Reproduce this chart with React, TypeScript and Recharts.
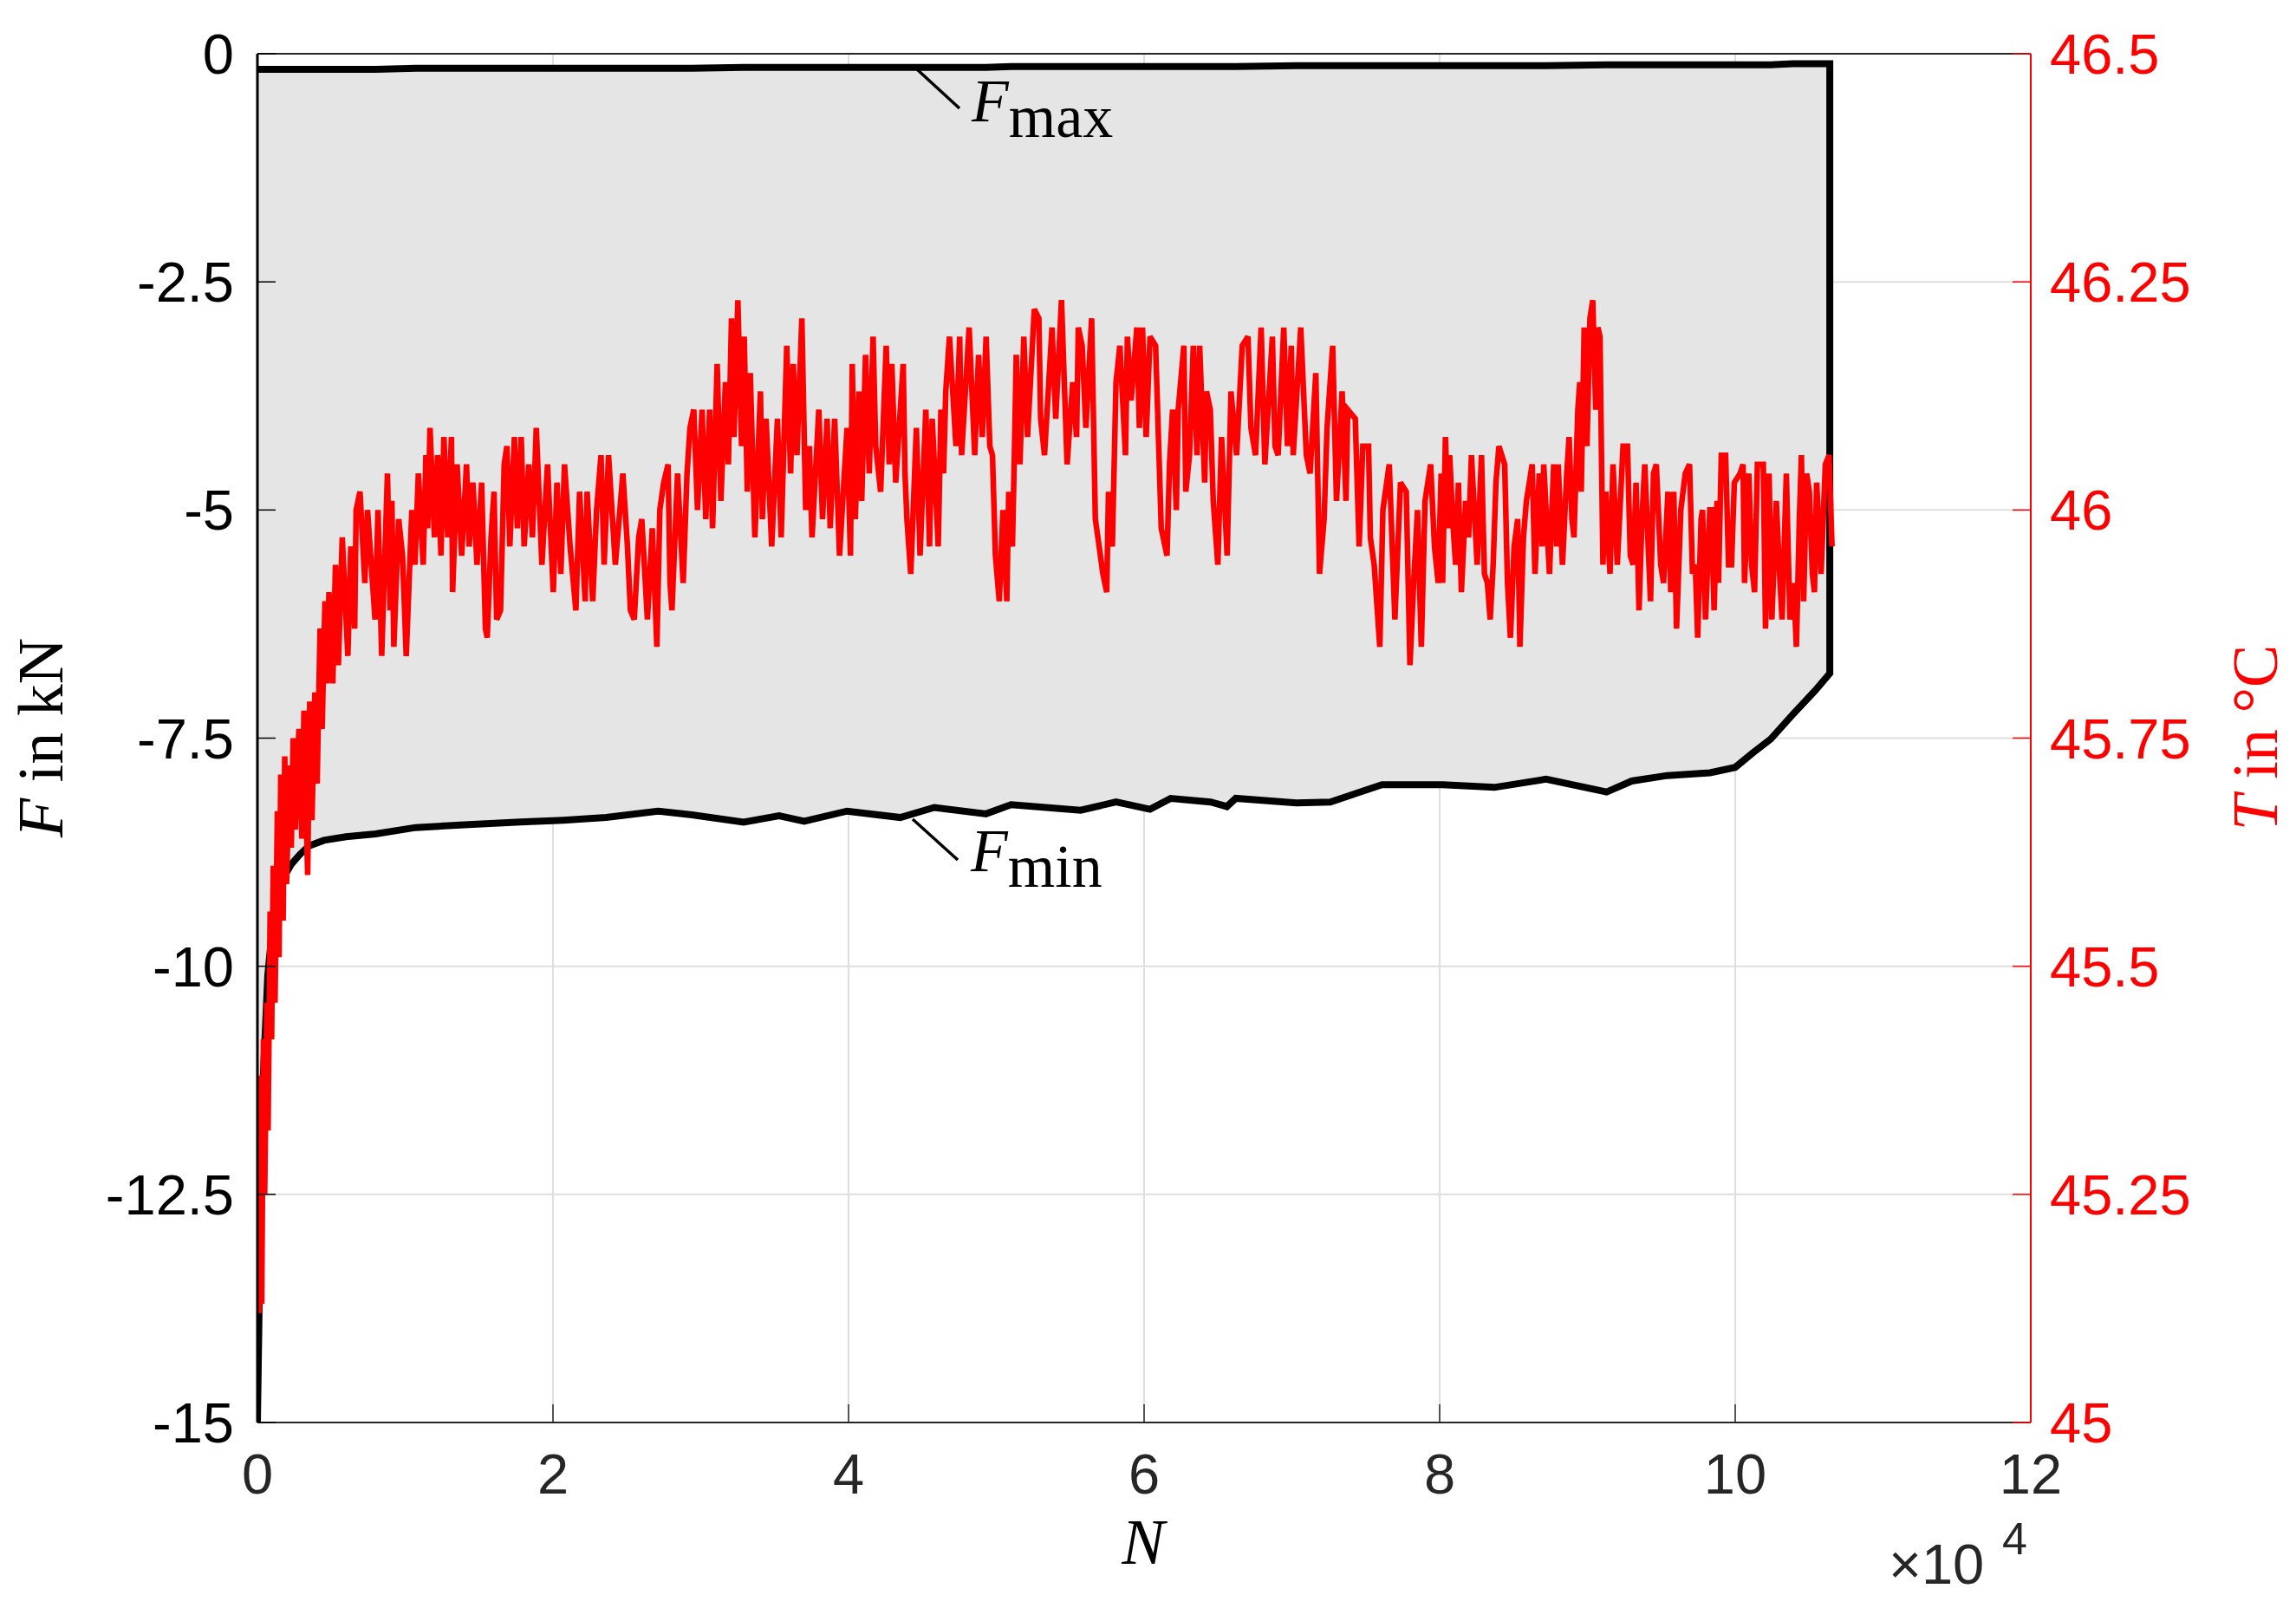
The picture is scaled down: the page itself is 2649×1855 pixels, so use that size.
import React from 'react';
import { ComposedChart, Area, Line, XAxis, YAxis, CartesianGrid } from 'recharts';

// Cycle number N (x 10^4) at which the force envelope was read
const forceN = [0, 0.02, 0.04, 0.07, 0.1, 0.14, 0.18, 0.23, 0.29, 0.35, 0.45, 0.6, 0.8, 1.07, 1.4, 1.78, 2.07, 2.36, 2.71, 2.94, 3.29, 3.53, 3.7, 3.99, 4.35, 4.58, 4.93, 5.1, 5.57, 5.81, 6.04, 6.18, 6.45, 6.56, 6.62, 7.03, 7.26, 7.5, 7.61, 8.02, 8.37, 8.72, 9.13, 9.3, 9.54, 9.83, 10.0, 10.12, 10.24, 10.39, 10.54, 10.64];
// F_min in kN
const forceMin = [-15.0, -12.8, -11.2, -10.1, -9.6, -9.25, -9.02, -8.88, -8.77, -8.68, -8.62, -8.58, -8.55, -8.48, -8.45, -8.42, -8.4, -8.37, -8.3, -8.34, -8.42, -8.35, -8.41, -8.3, -8.37, -8.26, -8.33, -8.23, -8.29, -8.2, -8.28, -8.16, -8.2, -8.25, -8.16, -8.21, -8.2, -8.07, -8.01, -8.01, -8.04, -7.95, -8.09, -7.97, -7.91, -7.88, -7.82, -7.66, -7.51, -7.24, -6.98, -6.79];
// F_max in kN
const forceMax = [-0.17, -0.17, -0.17, -0.17, -0.17, -0.17, -0.17, -0.17, -0.17, -0.17, -0.17, -0.17, -0.17, -0.16, -0.16, -0.16, -0.16, -0.16, -0.16, -0.16, -0.15, -0.15, -0.15, -0.15, -0.15, -0.15, -0.15, -0.14, -0.14, -0.14, -0.14, -0.14, -0.14, -0.14, -0.14, -0.13, -0.13, -0.13, -0.13, -0.13, -0.13, -0.13, -0.12, -0.12, -0.12, -0.12, -0.12, -0.12, -0.12, -0.11, -0.11, -0.11];

// Temperature T in °C vs N (x 10^4)
const temperature: [number, number][] = [
  [0.002,45.14],[0.012,45.12],[0.02,45.38],[0.029,45.13],[0.041,45.42],[0.049,45.25],[0.064,45.46],[0.072,45.32],[0.086,45.56],[0.096,45.42],[0.107,45.61],[0.119,45.46],[0.135,45.67],[0.146,45.51],[0.158,45.71],[0.174,45.55],[0.185,45.73],[0.197,45.59],[0.217,45.72],[0.229,45.63],[0.242,45.75],[0.256,45.65],[0.281,45.76],[0.301,45.64],[0.315,45.78],[0.34,45.6],[0.354,45.79],[0.369,45.66],[0.389,45.8],[0.404,45.7],[0.424,45.87],[0.438,45.76],[0.457,45.9],[0.47,45.81],
  [0.484,45.91],[0.51,45.81],[0.528,45.94],[0.548,45.83],[0.574,45.97],[0.612,45.84],[0.632,45.96],[0.658,45.87],[0.668,46.0],[0.694,46.02],[0.727,45.92],[0.745,46.0],[0.796,45.88],[0.816,46.0],[0.841,45.84],[0.88,46.04],[0.898,45.89],[0.91,46.01],[0.923,45.85],[0.956,45.99],[0.982,45.95],[1.007,45.84],[1.045,46.0],[1.066,45.94],[1.089,46.04],[1.122,45.94],[1.14,46.06],[1.152,45.98],[1.168,46.09],[1.198,45.97],[1.219,46.06],[1.242,45.95],[1.262,46.08],[1.288,45.97],[1.313,46.08],[1.321,45.91],[1.351,46.05],[1.382,45.95],[1.415,46.05],[1.433,45.96],[1.458,46.03],[1.486,45.94],[1.517,46.03],[1.543,45.87],[1.555,45.86],[1.581,45.97],[1.601,46.02],[1.619,45.88],[1.645,45.89],[1.67,46.05],[1.688,46.07],[1.708,45.96],[1.739,46.08],[1.759,45.98],[1.785,46.08],[1.805,45.96],[1.836,46.05],[1.861,45.97],[1.887,46.09],[1.925,45.94],[1.963,46.05],[2.002,45.91],[2.027,46.03],[2.053,45.93],[2.078,46.05],[2.116,45.96],[2.155,45.89],[2.18,46.02],[2.218,45.9],[2.231,46.02],[2.269,45.9],[2.295,46.0],[2.325,46.06],[2.346,45.94],[2.376,46.06],[2.422,45.94],[2.473,46.04],[2.504,45.96],[2.524,45.89],[2.55,45.88],[2.58,45.97],[2.601,45.99],[2.639,45.88],[2.672,45.98],[2.703,45.85],[2.723,46.0],[2.749,46.03],[2.779,46.05],[2.792,45.92],[2.805,45.89],[2.843,46.04],[2.881,45.92],[2.907,46.04],[2.927,46.09],[2.953,46.11],[2.978,46.0],[3.009,46.11],[3.034,45.99],[3.06,46.11],[3.08,45.98],[3.111,46.16],[3.136,46.01],[3.167,46.14],[3.187,46.05],[3.208,46.21],[3.225,46.08],[3.251,46.23],[3.276,46.07],[3.294,46.19],[3.315,46.02],[3.335,46.15],[3.366,45.97],[3.404,46.13],[3.417,45.99],[3.442,46.1],[3.48,45.96],[3.519,46.1],[3.544,45.97],[3.582,46.18],[3.608,46.04],[3.626,46.16],[3.651,46.06],[3.684,46.21],[3.71,46.0],[3.735,46.07],[3.753,45.97],[3.799,46.11],[3.824,45.99],[3.855,46.1],[3.876,45.98],[3.906,46.1],[3.939,45.95],[3.99,46.09],
  [4.013,45.95],[4.025,46.16],[4.046,45.99],[4.071,46.13],[4.089,46.01],[4.115,46.17],[4.14,46.04],[4.166,46.19],[4.184,46.07],[4.217,46.02],[4.255,46.18],[4.275,46.05],[4.293,46.16],[4.319,46.03],[4.37,46.16],[4.382,46.04],[4.395,45.99],[4.421,45.93],[4.459,46.09],[4.484,45.95],[4.523,46.11],[4.548,45.96],[4.566,46.1],[4.607,45.96],[4.625,46.11],[4.643,46.04],[4.658,46.13],[4.683,46.19],[4.727,46.07],[4.752,46.19],[4.765,46.06],[4.816,46.2],[4.854,46.06],[4.88,46.17],[4.905,46.08],[4.931,46.19],[4.956,46.07],[4.974,46.06],[4.994,45.95],[5.02,45.9],[5.045,46.0],[5.071,45.9],[5.084,46.02],[5.109,45.96],[5.122,46.06],[5.135,46.17],[5.16,46.05],[5.186,46.19],[5.211,46.08],[5.257,46.22],[5.288,46.21],[5.3,46.1],[5.326,46.06],[5.377,46.2],[5.402,46.1],[5.441,46.23],[5.479,46.05],[5.517,46.14],[5.543,46.08],[5.555,46.2],[5.581,46.18],[5.606,46.09],[5.645,46.21],[5.67,45.99],[5.696,45.96],[5.721,45.93],[5.747,45.91],[5.759,46.02],[5.785,45.96],[5.81,46.14],[5.836,46.18],[5.874,46.06],[5.887,46.19],[5.912,46.12],[5.951,46.2],[5.968,46.09],[5.989,46.2],[6.014,46.08],[6.04,46.19],[6.078,46.18],[6.116,45.98],[6.155,45.95],[6.172,46.05],[6.193,46.11],[6.218,46.0],[6.231,46.11],[6.269,46.18],[6.282,46.02],[6.307,46.06],[6.333,46.18],[6.358,46.06],[6.376,46.18],[6.41,46.03],[6.422,46.13],[6.448,46.11],[6.468,46.01],[6.499,45.94],[6.524,46.08],[6.562,45.95],[6.588,46.13],[6.626,46.06],[6.664,46.18],[6.703,46.19],[6.723,46.09],[6.754,46.06],[6.792,46.2],[6.817,46.05],[6.868,46.19],[6.886,46.07],[6.907,46.06],[6.945,46.2],[6.97,46.07],[6.996,46.18],[7.009,46.06],[7.06,46.2],[7.098,46.06],[7.123,46.04],[7.162,46.15],[7.187,45.93],[7.218,45.99],[7.238,46.09],[7.276,46.18],[7.302,46.01],[7.34,46.13],[7.366,46.01],[7.378,46.11],[7.429,46.1],[7.455,45.96],[7.48,46.07],[7.519,46.07],[7.531,45.97],[7.557,45.94],[7.595,45.85],[7.616,46.0],[7.633,46.02],[7.659,46.05],[7.697,45.88],[7.735,46.03],[7.774,46.02],[7.799,45.83],[7.824,45.92],[7.85,46.0],[7.876,45.85],[7.901,46.01],[7.939,46.05],[7.965,45.96],[7.99,45.92],
  [8.01,46.04],[8.02,45.92],[8.039,46.08],[8.059,45.98],[8.068,46.06],[8.088,45.99],[8.108,45.94],[8.127,46.03],[8.147,45.91],[8.176,46.01],[8.196,45.97],[8.215,46.06],[8.254,45.94],[8.283,46.06],[8.303,45.93],[8.323,45.92],[8.342,45.88],[8.362,45.94],[8.381,46.03],[8.401,46.07],[8.44,46.05],[8.459,45.92],[8.479,45.86],[8.504,45.96],[8.528,45.99],[8.543,45.85],[8.567,45.97],[8.587,46.01],[8.626,46.05],[8.645,45.93],[8.674,46.04],[8.694,45.96],[8.704,46.05],[8.743,45.93],[8.772,46.05],[8.792,45.96],[8.802,46.05],[8.831,45.94],[8.86,46.04],[8.876,46.08],[8.895,45.99],[8.909,45.97],[8.935,46.11],[8.948,46.14],[8.958,46.02],[8.978,46.2],[8.997,46.07],[9.017,46.21],[9.036,46.23],[9.056,46.11],[9.071,46.2],[9.085,46.19],[9.095,46.06],[9.105,45.94],[9.124,46.02],[9.153,45.93],[9.173,46.05],[9.202,45.94],[9.241,46.07],[9.271,46.07],[9.29,45.95],[9.31,45.94],[9.329,46.03],[9.349,45.89],[9.369,45.99],[9.388,46.05],[9.427,45.9],[9.447,46.04],[9.466,46.05],[9.496,45.94],[9.515,45.92],[9.545,46.02],[9.564,45.91],[9.584,46.02],[9.603,45.87],[9.632,46.0],[9.662,46.04],[9.691,46.05],[9.711,45.93],[9.73,45.94],[9.746,45.86],[9.769,45.99],[9.779,46.0],[9.799,45.88],[9.828,46.0],[9.838,46.0],[9.857,45.89],[9.877,46.01],[9.887,45.92],[9.906,46.06],[9.935,46.06],[9.955,45.94],[9.975,45.94],[9.994,46.03],[10.033,46.04],[10.053,46.05],[10.063,45.92],[10.092,46.04],[10.111,45.94],[10.131,45.91],[10.15,46.05],[10.19,46.05],[10.205,45.87],[10.229,46.04],[10.248,45.88],[10.278,46.01],[10.297,45.94],[10.317,45.88],[10.346,46.04],[10.37,45.88],[10.395,45.92],[10.414,45.85],[10.434,45.99],[10.448,46.06],[10.463,45.9],[10.483,46.04],[10.502,46.02],[10.522,45.93],[10.536,45.91],[10.551,46.03],[10.581,45.93],[10.61,46.05],[10.635,46.06],[10.655,45.96]
];

const xTicks = [0, 2, 4, 6, 8, 10, 12];
const fTicks = [-15, -12.5, -10, -7.5, -5, -2.5, 0];
const tTicks = [45, 45.25, 45.5, 45.75, 46, 46.25, 46.5];

const areaData = forceN.map((n, i) => ({ n, band: [forceMin[i], forceMax[i]] }));
const outlineData = [
  ...forceN.map((n, i) => ({ n, f: forceMin[i] })),
  ...forceN.map((n, i) => ({ n, f: forceMax[i] })).reverse(),
];
const tempData = temperature.map(([n, t]) => ({ n, t }));

const SANS = 'Liberation Sans, Arial, Helvetica, sans-serif';
const SERIF = 'Liberation Serif, Times New Roman, serif';

export default function App() {
  return (
    <div style={{ position: 'absolute', left: 0, top: 0, width: 2649, height: 1855, background: '#fff' }}>
      <ComposedChart width={2649} height={1855} margin={{ top: 61, right: 0, bottom: 0, left: 0 }}>
        <CartesianGrid xAxisId="b" yAxisId="F" stroke="#dedede" strokeWidth={2} />
        <Area xAxisId="b" yAxisId="F" data={areaData} dataKey="band" type="linear" stroke="none" fill="#e5e5e5" fillOpacity={1} isAnimationActive={false} />
        <Line xAxisId="b" yAxisId="F" data={outlineData} dataKey="f" type="linear" stroke="#000" strokeWidth={8} dot={false} activeDot={false} isAnimationActive={false} />
        <Line xAxisId="b" yAxisId="T" data={tempData} dataKey="t" type="linear" stroke="#ff0000" strokeWidth={6.5} strokeLinejoin="miter" strokeMiterlimit={3} dot={false} activeDot={false} isAnimationActive={false} />
        <XAxis xAxisId="b" dataKey="n" type="number" domain={[0, 12]} ticks={xTicks} interval={0} allowDataOverflow height={214}
          tickSize={-21} tickMargin={57}
          axisLine={{ stroke: '#262626', strokeWidth: 2 }} tickLine={{ stroke: '#262626', strokeWidth: 1.5 }}
          tick={{ fill: '#262626', fontSize: 65, fontFamily: SANS }} />
        <XAxis xAxisId="t" orientation="top" dataKey="n" type="number" domain={[0, 12]} ticks={xTicks} interval={0} allowDataOverflow height={1}
          tickSize={-21} tick={false}
          axisLine={{ stroke: '#262626', strokeWidth: 2 }} tickLine={{ stroke: '#262626', strokeWidth: 1.5 }} />
        <YAxis yAxisId="F" type="number" domain={[-15, 0]} ticks={fTicks} interval={0} allowDataOverflow width={297}
          tickSize={-21} tickMargin={48}
          axisLine={{ stroke: '#000', strokeWidth: 3 }} tickLine={{ stroke: '#000', strokeWidth: 1.5 }}
          tick={{ fill: '#000', fontSize: 65, fontFamily: SANS }} />
        <YAxis yAxisId="T" orientation="right" type="number" domain={[45, 46.5]} ticks={tTicks} interval={0} allowDataOverflow width={306}
          tickSize={-21} tickMargin={43}
          axisLine={{ stroke: '#ff0000', strokeWidth: 2 }} tickLine={{ stroke: '#ff0000', strokeWidth: 1.5 }}
          tick={{ fill: '#ff0000', fontSize: 65, fontFamily: SANS }} />
      </ComposedChart>
      <svg width={2649} height={1855} style={{ position: 'absolute', left: 0, top: 0, pointerEvents: 'none' }}>
        <text transform="translate(72,851) rotate(-90)" textAnchor="middle" fontFamily={SERIF} fontSize={74} fill="#000">
          <tspan fontStyle="italic">F</tspan>{' in kN'}
        </text>
        <text transform="translate(2627,851) rotate(-90)" textAnchor="middle" fontFamily={SERIF} fontSize={74} fill="#ff0000">
          <tspan fontStyle="italic">T</tspan>{' in °C'}
        </text>
        <text x={1319} y={1804} textAnchor="middle" fontFamily={SERIF} fontStyle="italic" fontSize={74} fill="#000">N</text>
        <text x={2179} y={1827} fontFamily={SANS} fontSize={65} fill="#262626">×10</text>
        <text x={2310} y={1793} fontFamily={SANS} fontSize={52} fill="#262626">4</text>
        <line x1={1058} y1={80} x2={1107} y2={125} stroke="#000" strokeWidth={3.5} />
        <text x={1121} y={140} fontFamily={SERIF} fontSize={70} fill="#000">
          <tspan fontStyle="italic">F</tspan><tspan dy={18}>max</tspan>
        </text>
        <line x1={1053} y1={945} x2={1105} y2={992} stroke="#000" strokeWidth={3.5} />
        <text x={1120} y={1005} fontFamily={SERIF} fontSize={70} fill="#000">
          <tspan fontStyle="italic">F</tspan><tspan dy={18}>min</tspan>
        </text>
      </svg>
    </div>
  );
}
